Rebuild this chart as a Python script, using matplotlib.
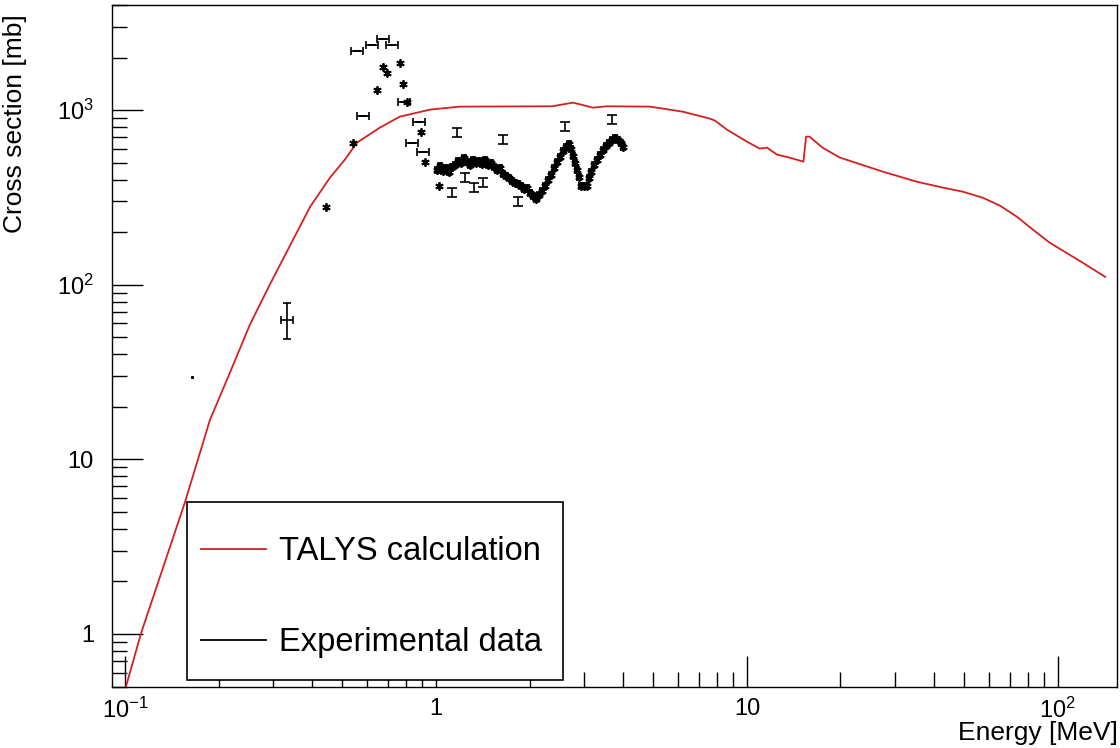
import matplotlib
matplotlib.use("Agg")
import matplotlib.pyplot as plt
from matplotlib.lines import Line2D
from matplotlib.patches import Rectangle
from matplotlib.ticker import FixedLocator, FixedFormatter, LogLocator, NullFormatter
import numpy as np

plt.rcParams["font.family"] = ["Liberation Sans", "DejaVu Sans"]
plt.rcParams["mathtext.fontset"] = "custom"
plt.rcParams["mathtext.rm"] = "Liberation Sans"
plt.rcParams["mathtext.default"] = "regular"

# TALYS calculation (energy in MeV, cross section in mb)
talys_e = [0.1007, 0.1126, 0.156, 0.1875, 0.218, 0.252, 0.292, 0.394, 0.456, 0.509,
           0.557, 0.660, 0.766, 0.958, 1.19, 2.36, 2.76, 3.20, 3.55, 4.88,
           6.22, 7.60, 7.89, 8.63, 10.0, 11.0, 11.6, 12.5, 13.7, 15.2, 15.5, 15.9,
           17.5, 19.9, 27.4, 35.2, 42.7, 49.5, 57.4, 65.1, 73.9, 83.1, 94.2, 120.0, 142.0]
talys_xs = [0.50, 1.01, 5.71, 16.8, 31.7, 59.0, 100, 280, 410, 520,
            651, 794, 918, 1007, 1047, 1052, 1104, 1033, 1052, 1047,
            980, 894, 871, 773, 660, 602, 610, 556, 535, 507, 705, 705,
            610, 535, 444, 389, 360, 341, 315, 284, 245, 207, 174, 134, 111]

# experimental set with horizontal (energy) error bars
h_e = [0.557, 0.622, 0.676, 0.723, 0.582, 0.789, 0.838, 0.881, 0.908, 0.332]
h_xs = [2193, 2373, 2570, 2373, 930, 1119, 651, 859, 578, 63]
h_yerr_lo = [0, 0, 0, 0, 0, 0, 0, 0, 0, 14]
h_yerr_hi = [0, 0, 0, 0, 0, 0, 0, 0, 0, 16]

# experimental set with vertical error bars only
i_e = [1.168, 1.64, 2.60, 3.68, 1.125, 1.33, 1.42, 1.84, 1.24]
i_xs = [743, 678, 804, 883, 337, 360, 384, 299, 410]

# star-marker points
s_e = [0.541, 0.646, 0.695, 0.676, 0.766, 0.783, 0.809, 0.898, 0.925, 1.02, 0.443]
s_xs = [651, 1310, 1641, 1775, 1872, 1419, 1119, 753, 507, 369, 280]

# single low-energy point
p_e = [0.164]
p_xs = [29.7]

# dense measurement 1 - 4 MeV
d_e = [1.007, 1.030, 1.053, 1.077, 1.101, 1.126, 1.151, 1.177, 1.204, 1.230,
       1.258, 1.286, 1.315, 1.345, 1.375, 1.406, 1.438, 1.470, 1.503, 1.537,
       1.571, 1.607, 1.643, 1.679, 1.717, 1.756, 1.795, 1.835, 1.877, 1.919,
       1.962, 2.006, 2.051, 2.097, 2.144, 2.192, 2.241, 2.291, 2.343, 2.395,
       2.449, 2.504, 2.560, 2.618, 2.676, 2.716, 2.756, 2.797, 2.838, 2.881,
       2.923, 2.989, 3.055, 3.105, 3.148, 3.219, 3.292, 3.366, 3.443, 3.519,
       3.599, 3.680, 3.763, 3.846, 3.933, 3.991]
d_xs = [456, 481, 450, 469, 444, 475, 487, 514, 500, 535,
        507, 487, 520, 500, 514, 494, 520, 487, 500, 475,
        456, 469, 433, 421, 410, 395, 384, 379, 369, 355,
        360, 337, 324, 311, 328, 346, 369, 400, 427, 469,
        507, 542, 586, 618, 643, 602, 549, 500, 456, 416,
        369, 369, 369, 410, 444, 487, 520, 556, 594, 626,
        651, 678, 695, 678, 651, 618]

W, H = 1120, 748
fig = plt.figure(figsize=(W / 100, H / 100), dpi=100)
ax = fig.add_axes([112 / W, 61 / H, 1005 / W, 682 / H])

ax.plot(talys_e, talys_xs, color="#d42020", lw=1.3, zorder=2)

h_e = np.array(h_e)
ax.errorbar(h_e, h_xs, xerr=[h_e * 0.045, h_e * 0.047], yerr=[h_yerr_lo, h_yerr_hi],
            fmt="none", ecolor="black", elinewidth=1.2, capsize=3, capthick=1.2, zorder=3)

i_xs = np.array(i_xs)
ax.errorbar(i_e, i_xs, yerr=[i_xs * 0.06, i_xs * 0.065], fmt="none", ecolor="black",
            elinewidth=1.2, capsize=3.5, capthick=1.2, zorder=3)

ax.plot(s_e, s_xs, ls="none", marker=(6, 2, 0), ms=6, mew=1.3, color="black", zorder=3)
ax.plot(p_e, p_xs, ls="none", marker="s", ms=1.2, color="black", zorder=3)

d_e = np.array(d_e)
d_xs = np.array(d_xs)
ax.errorbar(d_e, d_xs, xerr=d_e * 0.012, yerr=d_xs * 0.04, fmt="none", ecolor="black",
            elinewidth=1.2, capsize=2, capthick=1.2, zorder=3)
ax.plot(d_e, d_xs, ls="none", marker=(6, 2, 0), ms=6, mew=1.3, color="black", zorder=3)

ax.set_xscale("log")
ax.set_yscale("log")
ax.set_xlim(0.0908, 155)
ax.set_ylim(0.497, 4000)

ax.xaxis.set_major_locator(FixedLocator([0.1, 1, 10, 100]))
ax.xaxis.set_major_formatter(FixedFormatter(["$10^{-1}$", "1", "10", "$10^{2}$"]))
ax.yaxis.set_major_locator(FixedLocator([1, 10, 100, 1000]))
ax.yaxis.set_major_formatter(FixedFormatter(["1", "10", "$10^{2}$", "$10^{3}$"]))
for axis in (ax.xaxis, ax.yaxis):
    axis.set_minor_locator(LogLocator(base=10, subs=np.arange(2, 10), numticks=20))
    axis.set_minor_formatter(NullFormatter())

ax.tick_params(which="both", direction="in", top=False, right=False, width=1, labelsize=17)
ax.tick_params(which="major", length=22)
ax.tick_params(which="minor", length=11)
ax.tick_params(axis="y", pad=13)
ax.tick_params(axis="x", pad=8)
for sp in ax.spines.values():
    sp.set_linewidth(1)

ax.set_xlabel("Energy [MeV]", fontsize=19, loc="right")
ax.set_ylabel("Cross section [mb]", fontsize=19, loc="top")
ax.xaxis.set_label_coords(1.001, -0.05)
ax.yaxis.set_label_coords(-0.085, 0.986)

# legend box: white frame drawn separately so the padding matches the reference
box = Rectangle((0.0746, 0.0103), 0.3741, 0.261, transform=ax.transAxes,
                facecolor="white", edgecolor="black", lw=1.2, zorder=9)
ax.add_patch(box)
handles = [Line2D([], [], color="#d42020", lw=1.3), Line2D([], [], color="black", lw=1.3)]
leg = ax.legend(handles, ["TALYS calculation", "Experimental data"], loc="upper left",
                bbox_to_anchor=(0.0886, 0.2214), frameon=False, fontsize=23.5,
                borderpad=0, borderaxespad=0, handlelength=2.0, handletextpad=0.38,
                labelspacing=1.84)
leg.set_zorder(10)

fig.savefig("out.png", dpi=100)
